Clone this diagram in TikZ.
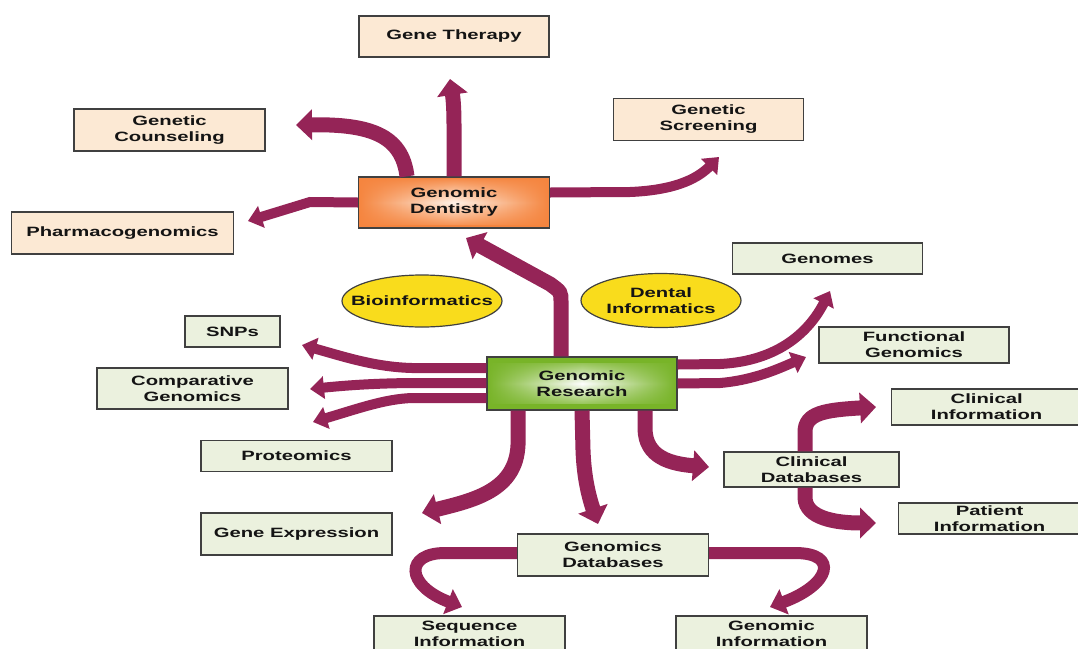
\documentclass[tikz,border=0pt]{standalone}
\usepackage{fontspec}
\setmainfont[FakeStretch=1.5]{Liberation Sans}
\usetikzlibrary{arrows.meta,shapes.geometric,fadings}
\definecolor{peach}{HTML}{FCE9D4}
\definecolor{lgreen}{HTML}{EBF1DE}
\definecolor{bord}{HTML}{404040}
\definecolor{txt}{HTML}{141414}
\definecolor{yel}{HTML}{F9DC1C}
\definecolor{maroon}{HTML}{952457}
\definecolor{org}{HTML}{F5853F}
\definecolor{orglight}{HTML}{FFF4EA}
\definecolor{grn}{HTML}{78B428}
\tikzfading[name=vmid, top color=transparent!100, bottom color=transparent!100, middle color=transparent!0]
\begin{document}
\begin{tikzpicture}[x=1pt,y=-1pt,
 lbl/.style={font=\fontsize{13.5pt}{16pt}\selectfont\bfseries, text=txt, align=center},
 pbox/.style={lbl, draw=bord, line width=1.3pt, fill=peach, inner sep=0pt},
 gbox/.style={lbl, draw=bord, line width=1.3pt, fill=lgreen, inner sep=0pt},
 ovalshape/.style={draw=bord, line width=1.2pt, fill=yel},
 sz/.style 2 args={minimum width=#1pt, minimum height=#2pt},
 arr/.style={draw=maroon, line width=10pt, -{Triangle[width=22pt,length=14pt]}},
 arrM/.style={draw=maroon, line width=12pt, -{Triangle[width=26pt,length=15pt]}},
 arrT/.style={draw=maroon, line width=15pt, -{Triangle[width=30pt,length=16pt]}}
]
\useasboundingbox (0,0) rectangle (1078,648);
\clip (0,0) rectangle (1078,648);

% peach boxes
\node[pbox, sz={190}{41}] (gt) at (454,36.5) {Gene Therapy};
\node[pbox, sz={191}{42}] (gc) at (169.5,130) {Genetic\\Counseling};
\node[pbox, sz={222}{42}] (ph) at (122.5,233) {Pharmacogenomics};
\node[pbox, sz={190}{42}] (gs) at (708.5,119.5) {Genetic\\Screening};
\node[pbox, sz={191}{51}, fill=org,
  path picture={\shade[left color=org, right color=org, middle color=orglight, path fading=vmid]
   ([yshift=-3pt]path picture bounding box.north west) rectangle ([yshift=3pt]path picture bounding box.south east);}
 ] (gd) at (454,202.5) {Genomic\\Dentistry};

% green boxes
\node[gbox, sz={190}{31}] (gen) at (827.5,258.5) {Genomes};
\node[gbox, sz={95}{31}] (snp) at (232.5,331.5) {SNPs};
\node[gbox, sz={190}{36}] (fg) at (914,345) {Functional\\Genomics};
\node[gbox, sz={191}{41}] (cg) at (192.5,388.5) {Comparative\\Genomics};
\node[gbox, sz={190}{53}, fill=grn,
  path picture={\shade[left color=grn, right color=grn, middle color=white, path fading=vmid]
   ([yshift=-7pt]path picture bounding box.north west) rectangle ([yshift=7pt]path picture bounding box.south east);}
 ] (gr) at (582,383.5) {Genomic\\Research};
\node[gbox, sz={190}{36}, anchor=west] (ci) at (891,407) {Clinical\\Information};
\node[gbox, sz={191}{31}] (pr) at (296.5,456) {Proteomics};
\node[gbox, sz={175}{35}] (cd) at (811.5,469.5) {Clinical\\Databases};
\node[gbox, sz={182}{31}, anchor=west] (pi) at (898,518.5) {Patient\\Information};
\node[gbox, sz={191}{42}] (ge) at (296.5,534) {Gene Expression};
\node[gbox, sz={191}{42}] (gdb) at (613,555) {Genomics\\Databases};
\node[gbox, sz={191}{36}] (si) at (469.5,634) {Sequence\\Information};
\node[gbox, sz={191}{36}] (gi) at (771.5,634) {Genomic\\Information};

% ellipses
\path[ovalshape] (422,301) ellipse [x radius=80pt, y radius=26pt];
\node[lbl] (bio) at (422,301) {Bioinformatics};
\path[ovalshape] (661,300.5) ellipse [x radius=80pt, y radius=27pt];
\node[lbl] (dent) at (661,300.5) {Dental\\Informatics};

% arrow tips
\coordinate (tGT) at (450,79);
\coordinate (tGC) at (296,125);
\coordinate (tPH) at (248,221);
\coordinate (tGS) at (719,157);
\coordinate (tGD) at (466,238);
\coordinate (tSNP) at (302,345);
\coordinate (tCG) at (310,389);
\coordinate (tPR) at (313,422);
\coordinate (tGE) at (422,513);
\coordinate (tGDB) at (598,524);
\coordinate (tCD) at (709,467);
\coordinate (tGEN) at (830,291);
\coordinate (tFG) at (806,357);
\coordinate (tCI) at (876,407);
\coordinate (tPI) at (876,523);
\coordinate (tSI) at (462,607);
\coordinate (tGI) at (770,607);

% arrows from Genomic Dentistry
\draw[arrT] (gd.north) -- (454,125) .. controls (454,100) and (452,92) .. (tGT);
\draw[arrT] ([xshift=-47pt]gd.north) .. controls (402,135) and (370,124) .. (tGC);
\draw[arr] (gd.west) -- (310,202) -- (tPH);
\draw[arr] ([yshift=10pt]gd.east) -- (630,192) .. controls (680,190) and (700,176) .. (tGS);

% arrows from Genomic Research
\draw[arrT] ([xshift=-21pt]gr.north) -- (561,302) .. controls (561,292) .. (550,284) -- (tGD);
\draw[arr] ([yshift=15.5pt]gr.west) -- (412,368) .. controls (375,367) and (345,357) .. (tSNP);
\draw[arr] ([yshift=0.5pt]gr.west) -- (420,383) .. controls (380,383) and (350,385) .. (tCG);
\draw[arr] ([yshift=-14.5pt]gr.west) -- (412,398) .. controls (385,399) and (360,408) .. (tPR);
\draw[arrT] ([xshift=-64pt]gr.south) -- (518,445) .. controls (516,490) and (475,500) .. (tGE);
\draw[arrT] (gr.south) -- (583,450) .. controls (584,480) and (590,500) .. (tGDB);
\draw[arrT] ([xshift=63pt]gr.south) -- (645,428) .. controls (645,458) and (672,464) .. (tCD);
\draw[arr] ([yshift=19pt]gr.east) -- (720,364) .. controls (780,361) and (810,330) .. (tGEN);
\draw[arr] (gr.east) -- (720,383) .. controls (755,380) and (780,368) .. (tFG);

% arrows from Clinical Databases
\draw[arrT] ([xshift=-6.5pt]cd.north) -- (805,432) .. controls (805,413) and (825,410) .. (tCI);
\draw[arrT] ([xshift=-6.5pt]cd.south) -- (805,498) .. controls (806,518) and (835,523) .. (tPI);

% arrows from Genomics Databases
\draw[arrM] ([yshift=2pt]gdb.west) -- (445,553) .. controls (405,553) and (405,585) .. (tSI);
\draw[arrM] ([yshift=2pt]gdb.east) -- (795,553) .. controls (840,553) and (830,585) .. (tGI);
\end{tikzpicture}
\end{document}
